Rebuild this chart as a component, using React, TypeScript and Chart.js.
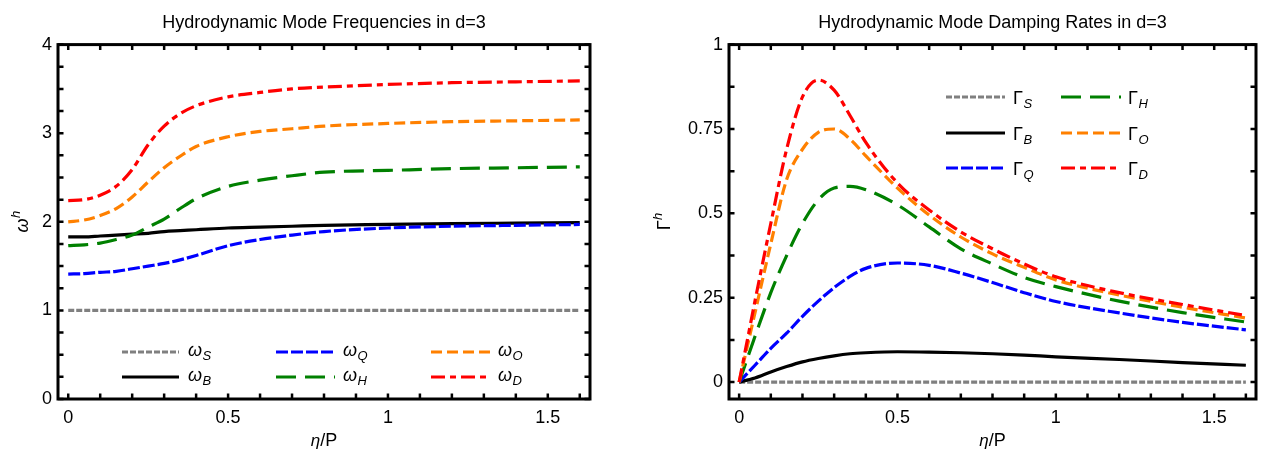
import React, { useEffect, useRef } from "react";
import { Chart, registerables } from "chart.js";

Chart.register(...registerables);

// ---------- data: hydrodynamic mode frequencies ω^h(η/P) ----------
const etaFreq = [0, 0.05, 0.1, 0.15, 0.2, 0.25, 0.3, 0.35, 0.4, 0.5, 0.6, 0.7, 0.8, 1.0, 1.2, 1.4, 1.6];
const omegaS = [1, 1, 1, 1, 1, 1, 1, 1, 1, 1, 1, 1, 1, 1, 1, 1, 1];
const omegaB = [1.83, 1.83, 1.84, 1.85, 1.86, 1.87, 1.89, 1.9, 1.91, 1.93, 1.94, 1.95, 1.96, 1.97, 1.98, 1.985, 1.99];
const omegaQ = [1.41, 1.415, 1.43, 1.44, 1.47, 1.5, 1.53, 1.57, 1.62, 1.73, 1.8, 1.85, 1.89, 1.93, 1.95, 1.96, 1.97];
const omegaH = [1.73, 1.74, 1.76, 1.8, 1.85, 1.94, 2.03, 2.15, 2.26, 2.4, 2.47, 2.52, 2.56, 2.58, 2.6, 2.61, 2.62];
const omegaO = [2.0, 2.02, 2.07, 2.15, 2.28, 2.45, 2.61, 2.74, 2.85, 2.96, 3.02, 3.05, 3.08, 3.11, 3.13, 3.14, 3.15];
const omegaD = [2.24, 2.25, 2.3, 2.4, 2.59, 2.87, 3.08, 3.22, 3.31, 3.41, 3.46, 3.5, 3.52, 3.55, 3.57, 3.58, 3.59];

// ---------- data: hydrodynamic mode damping rates Γ^h(η/P) ----------
const etaDamp = [0, 0.025, 0.05, 0.1, 0.15, 0.2, 0.25, 0.3, 0.35, 0.4, 0.5, 0.6, 0.7, 0.8, 0.9, 1.0, 1.2, 1.4, 1.6];
const gammaS = [0, 0, 0, 0, 0, 0, 0, 0, 0, 0, 0, 0, 0, 0, 0, 0, 0, 0, 0];
const gammaB = [0, 0.006, 0.012, 0.03, 0.046, 0.06, 0.07, 0.078, 0.084, 0.087, 0.09, 0.089, 0.087, 0.084, 0.08, 0.075, 0.067, 0.058, 0.05];
const gammaQ = [0, 0.025, 0.05, 0.1, 0.145, 0.195, 0.24, 0.28, 0.313, 0.337, 0.353, 0.346, 0.323, 0.295, 0.265, 0.239, 0.205, 0.177, 0.155];
const gammaH = [0, 0.068, 0.135, 0.265, 0.375, 0.47, 0.54, 0.575, 0.58, 0.57, 0.525, 0.46, 0.395, 0.35, 0.31, 0.283, 0.24, 0.206, 0.178];
const gammaO = [0, 0.103, 0.205, 0.41, 0.6, 0.69, 0.74, 0.75, 0.72, 0.67, 0.575, 0.495, 0.43, 0.38, 0.34, 0.303, 0.258, 0.222, 0.19];
const gammaD = [0, 0.12, 0.24, 0.47, 0.69, 0.845, 0.895, 0.865, 0.79, 0.71, 0.59, 0.51, 0.445, 0.395, 0.35, 0.312, 0.265, 0.23, 0.197];

// ---------- tick labels ----------
const xTickLabels = [0, 0.5, 1, 1.5];
const freqYTickLabels = [0, 1, 2, 3, 4];
const dampYTickLabels = [0, 0.25, 0.5, 0.75, 1];

// ---------- styles ----------
const TEXT_FONT = "'Liberation Sans', Arial, Helvetica, sans-serif";
const NARROW_FONT = "'Liberation Sans Narrow', 'Arial Narrow', 'Liberation Sans', Arial, sans-serif";
const modeColor: Record<string, string> = {
  S: "#808080",
  B: "#000000",
  Q: "#0000ff",
  H: "#008000",
  O: "#ff8000",
  D: "#ff0000",
};
const modeDash: Record<string, number[]> = {
  S: [6, 2],
  B: [],
  Q: [12, 3],
  H: [20, 9],
  O: [11, 5],
  D: [14, 5, 6, 5],
};

type Series = { key: string; values: number[] };
type LegendItem = { key: string; col: number; row: number };

type PanelSpec = {
  title: string;
  symbol: string;
  symbolItalic: boolean;
  eta: number[];
  series: Series[];
  yMin: number;
  yMax: number;
  yStep: number;
  yLabels: number[];
  yAxisWidth: number;
  padRight: number;
  yLabelX: number;
  legendItems: LegendItem[];
  legendCols: { x0: number; x1: number; tx: number }[];
  legendRows: number[];
};

const freqPanel: PanelSpec = {
  title: "Hydrodynamic Mode Frequencies in d=3",
  symbol: "ω",
  symbolItalic: true,
  eta: etaFreq,
  series: [
    { key: "S", values: omegaS },
    { key: "B", values: omegaB },
    { key: "Q", values: omegaQ },
    { key: "H", values: omegaH },
    { key: "O", values: omegaO },
    { key: "D", values: omegaD },
  ],
  yMin: 0,
  yMax: 4,
  yStep: 0.25,
  yLabels: freqYTickLabels,
  yAxisWidth: 58,
  padRight: 41,
  yLabelX: 24,
  legendItems: [
    { key: "S", col: 0, row: 0 },
    { key: "B", col: 0, row: 1 },
    { key: "Q", col: 1, row: 0 },
    { key: "H", col: 1, row: 1 },
    { key: "O", col: 2, row: 0 },
    { key: "D", col: 2, row: 1 },
  ],
  legendCols: [
    { x0: 122, x1: 179, tx: 188 },
    { x0: 276, x1: 335, tx: 343 },
    { x0: 431, x1: 490, tx: 498 },
  ],
  legendRows: [352, 377],
};

const dampPanel: PanelSpec = {
  title: "Hydrodynamic Mode Damping Rates in d=3",
  symbol: "Γ",
  symbolItalic: false,
  eta: etaDamp,
  series: [
    { key: "S", values: gammaS },
    { key: "B", values: gammaB },
    { key: "Q", values: gammaQ },
    { key: "H", values: gammaH },
    { key: "O", values: gammaO },
    { key: "D", values: gammaD },
  ],
  yMin: -0.05,
  yMax: 1,
  yStep: 0.125,
  yLabels: dampYTickLabels,
  yAxisWidth: 98,
  padRight: 7,
  yLabelX: 33,
  legendItems: [
    { key: "S", col: 0, row: 0 },
    { key: "B", col: 0, row: 1 },
    { key: "Q", col: 0, row: 2 },
    { key: "H", col: 1, row: 0 },
    { key: "O", col: 1, row: 1 },
    { key: "D", col: 1, row: 2 },
  ],
  legendCols: [
    { x0: 315, x1: 374, tx: 382 },
    { x0: 430, x1: 490, tx: 497 },
  ],
  legendRows: [97, 133, 168],
};

const X_MIN = -0.032;
const X_MAX = 1.632;
const X_MINOR = 0.1;

function stepValues(lo: number, hi: number, step: number): number[] {
  const out: number[] = [];
  const n = Math.round((hi - lo) / step);
  for (let i = 0; i <= n; i++) out.push(Math.round((lo + i * step) * 1e6) / 1e6);
  return out;
}

function labelFor(list: number[]) {
  return (value: number | string) => {
    const v = Number(value);
    const hit = list.find((l) => Math.abs(l - v) < 1e-6);
    return hit === undefined ? "" : String(hit);
  };
}

// draws a symbol with an italic subscript (legend) or superscript (axis)
function drawScripted(
  ctx: CanvasRenderingContext2D,
  x: number,
  baseline: number,
  main: string,
  mainItalic: boolean,
  mainSize: number,
  script: string,
  scriptSize: number,
  scriptShift: number
) {
  ctx.font = `${mainItalic ? "italic " : ""}${mainSize}px ${TEXT_FONT}`;
  ctx.fillText(main, x, baseline);
  const w = ctx.measureText(main).width;
  ctx.font = `italic ${scriptSize}px ${TEXT_FONT}`;
  ctx.fillText(script, x + w + 0.5, baseline + scriptShift);
}

function makeDecorPlugin(spec: PanelSpec) {
  const xTicks = stepValues(0, 1.6, X_MINOR);
  const yTicks = stepValues(spec.yMin < 0 ? 0 : spec.yMin, spec.yMax, spec.yStep);
  return {
    id: "frameDecor",
    afterDatasetsDraw(chart: any) {
      const { ctx, chartArea: a, scales } = chart;
      ctx.save();
      // inward tick marks on all four sides
      ctx.strokeStyle = "#000";
      ctx.setLineDash([]);
      ctx.lineWidth = 2.5;
      const L = 5.5;
      ctx.beginPath();
      for (const v of xTicks) {
        const px = scales.x.getPixelForValue(v);
        ctx.moveTo(px, a.bottom);
        ctx.lineTo(px, a.bottom - L);
        ctx.moveTo(px, a.top);
        ctx.lineTo(px, a.top + L);
      }
      for (const v of yTicks) {
        const py = scales.y.getPixelForValue(v);
        ctx.moveTo(a.left, py);
        ctx.lineTo(a.left + L, py);
        ctx.moveTo(a.right, py);
        ctx.lineTo(a.right - L, py);
      }
      ctx.stroke();
      // frame
      ctx.lineWidth = 3;
      ctx.strokeRect(a.left, a.top, a.right - a.left, a.bottom - a.top);

      // legend
      ctx.fillStyle = "#000";
      ctx.textAlign = "left";
      ctx.textBaseline = "alphabetic";
      for (const item of spec.legendItems) {
        const col = spec.legendCols[item.col];
        const y = spec.legendRows[item.row];
        ctx.strokeStyle = modeColor[item.key];
        ctx.lineWidth = 3.2;
        ctx.lineCap = "butt";
        ctx.setLineDash(modeDash[item.key]);
        ctx.beginPath();
        ctx.moveTo(col.x0, y);
        ctx.lineTo(col.x1, y);
        ctx.stroke();
        ctx.setLineDash([]);
        const base = spec.symbolItalic ? y + 4 : y + 6.5;
        drawScripted(ctx, col.tx, base, spec.symbol, spec.symbolItalic, 18, item.key, 13, 4);
      }

      // x axis label: η/P
      const cx = (a.left + a.right) / 2;
      ctx.font = `italic 17px ${TEXT_FONT}`;
      const wEta = ctx.measureText("η").width;
      ctx.font = `18px ${NARROW_FONT}`;
      const wRest = ctx.measureText("/P").width;
      const startX = cx - (wEta + wRest) / 2;
      ctx.font = `italic 17px ${TEXT_FONT}`;
      ctx.fillText("η", startX, 446);
      ctx.font = `18px ${NARROW_FONT}`;
      ctx.fillText("/P", startX + wEta, 446);

      // y axis label, rotated: symbol with superscript h
      const cy = (a.top + a.bottom) / 2;
      ctx.translate(spec.yLabelX, cy);
      ctx.rotate(-Math.PI / 2);
      ctx.font = `${spec.symbolItalic ? "italic " : ""}18px ${TEXT_FONT}`;
      const wm = ctx.measureText(spec.symbol).width;
      ctx.font = `italic 13px ${TEXT_FONT}`;
      const wh = ctx.measureText("h").width;
      const x0 = -(wm + wh) / 2;
      drawScripted(ctx, x0, spec.symbolItalic ? 4 : 6, spec.symbol, spec.symbolItalic, 18, "h", 13, -8);
      ctx.restore();
    },
  };
}

function buildConfig(spec: PanelSpec): any {
  // the last-listed mode is drawn on top
  const datasets = [...spec.series].reverse().map((s) => ({
    label: s.key,
    data: spec.eta.map((x, i) => ({ x, y: s.values[i] })),
    borderColor: modeColor[s.key],
    borderDash: modeDash[s.key],
    borderWidth: 3.2,
    borderCapStyle: "butt",
    borderJoinStyle: "round",
    pointRadius: 0,
    cubicInterpolationMode: "monotone",
    fill: false,
  }));

  return {
    type: "line",
    data: { datasets },
    options: {
      animation: false,
      responsive: false,
      maintainAspectRatio: false,
      layout: { padding: { left: 0, right: spec.padRight, top: 0, bottom: 0 } },
      plugins: {
        legend: { display: false },
        tooltip: { enabled: false },
        title: {
          display: true,
          text: spec.title,
          color: "#000",
          fullSize: false,
          font: { family: NARROW_FONT, size: 18, weight: "normal", lineHeight: 1.2 },
          padding: { top: 12, bottom: 11 },
        },
      },
      scales: {
        x: {
          type: "linear",
          min: X_MIN,
          max: X_MAX,
          grid: { display: false, drawTicks: false },
          border: { display: false },
          ticks: {
            stepSize: X_MINOR,
            autoSkip: false,
            includeBounds: false,
            maxRotation: 0,
            padding: 8,
            color: "#000",
            font: { family: NARROW_FONT, size: 18 },
            callback: labelFor(xTickLabels),
          },
          afterFit: (s: any) => {
            s.height = 59;
          },
        },
        y: {
          type: "linear",
          min: spec.yMin,
          max: spec.yMax,
          grid: { display: false, drawTicks: false },
          border: { display: false },
          ticks: {
            stepSize: spec.yStep,
            autoSkip: false,
            includeBounds: false,
            padding: 6,
            color: "#000",
            font: { family: NARROW_FONT, size: 18 },
            callback: labelFor(spec.yLabels),
          },
          afterFit: (s: any) => {
            s.width = spec.yAxisWidth;
          },
        },
      },
    },
    plugins: [makeDecorPlugin(spec)],
  };
}

function Panel({ spec, left, width }: { spec: PanelSpec; left: number; width: number }) {
  const ref = useRef<HTMLCanvasElement | null>(null);
  useEffect(() => {
    if (!ref.current) return;
    const chart = new Chart(ref.current, buildConfig(spec));
    return () => chart.destroy();
  }, [spec]);
  return (
    <canvas
      ref={ref}
      width={width}
      height={458}
      style={{ position: "absolute", left, top: 0, width, height: 458 }}
    />
  );
}

export default function App() {
  return (
    <div
      style={{
        position: "fixed",
        left: 0,
        top: 0,
        width: 1263,
        height: 458,
        background: "#ffffff",
        overflow: "hidden",
      }}
    >
      <Panel spec={freqPanel} left={0} width={631} />
      <Panel spec={dampPanel} left={631} width={632} />
    </div>
  );
}
